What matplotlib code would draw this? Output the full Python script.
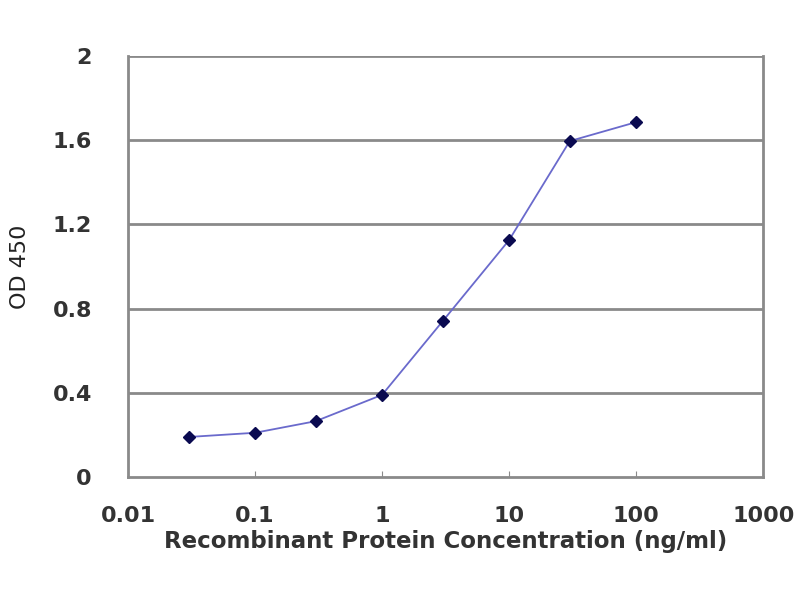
import matplotlib
matplotlib.use("Agg")
import matplotlib.pyplot as plt

conc = [0.03, 0.1, 0.3, 1, 3, 10, 30, 100]
od450 = [0.19, 0.21, 0.265, 0.39, 0.74, 1.125, 1.595, 1.685]
xticks = [0.01, 0.1, 1, 10, 100, 1000]
xtick_labels = ["0.01", "0.1", "1", "10", "100", "1000"]
yticks = [0, 0.4, 0.8, 1.2, 1.6, 2]
ytick_labels = ["0", "0.4", "0.8", "1.2", "1.6", "2"]

plt.rcParams['font.family'] = ['DejaVu Sans']
fig = plt.figure(figsize=(8, 6), dpi=100)
ax = fig.add_axes([0.16, 0.205, 0.794, 0.702])
ax.set_xscale('log')
ax.set_xlim(0.01, 1000)
ax.set_ylim(0, 2)

for y in yticks[1:]:
    ax.axhline(y, color='#8a8a8a', lw=2, zorder=1)

ax.plot(conc, od450, color='#6a6acc', lw=1.3, zorder=2)
ax.plot(conc, od450, ls='none', marker='D', ms=6, color='#0a0a50', zorder=3)

ax.set_xticks(xticks)
ax.set_xticklabels(xtick_labels)
ax.xaxis.set_minor_locator(matplotlib.ticker.NullLocator())
ax.set_yticks(yticks)
ax.set_yticklabels(ytick_labels)
ax.tick_params(axis='x', direction='in', length=4, color='#8a8a8a', labelsize=16,
               labelcolor='#333333', pad=21)
ax.tick_params(axis='y', length=0, labelsize=16, labelcolor='#333333', pad=26)
for lab in ax.get_xticklabels() + ax.get_yticklabels():
    lab.set_fontweight('bold')

for s in ['left', 'bottom', 'right', 'top']:
    ax.spines[s].set_color('#8a8a8a')
    ax.spines[s].set_linewidth(2)
ax.spines['top'].set_visible(False)

ax.set_xlabel("Recombinant Protein Concentration (ng/ml)", fontsize=16.5,
              fontweight='bold', color='#333333', labelpad=3)
ax.set_ylabel("OD 450", fontsize=16, color='#222222', labelpad=16)

fig.savefig("out.png", dpi=100, facecolor='white')
